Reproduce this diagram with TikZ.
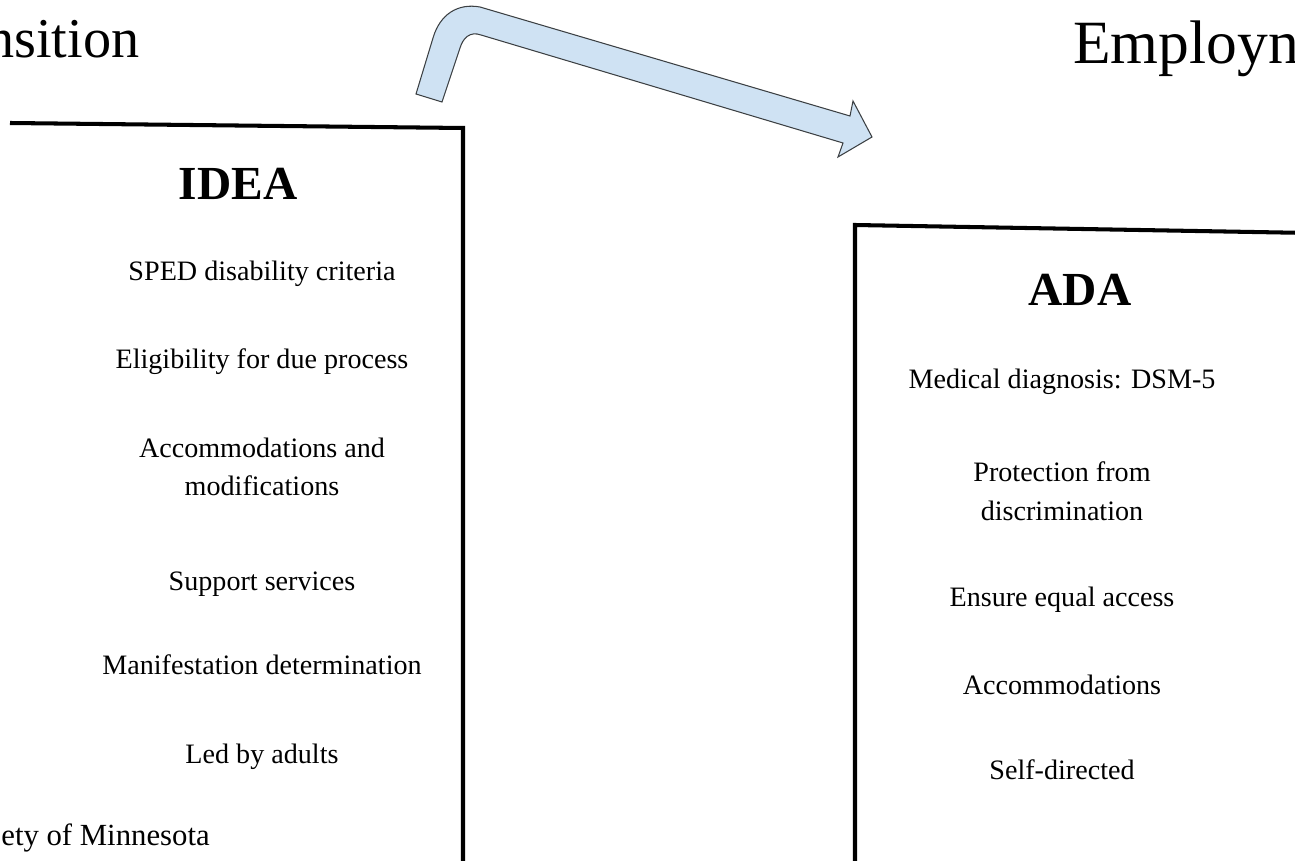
\documentclass[tikz,border=0pt]{standalone}
\usepackage{fontspec}
\setmainfont{Liberation Serif}
\usetikzlibrary{positioning}
\definecolor{shaftblue}{HTML}{CFE2F3}
\definecolor{shaftedge}{HTML}{3C4043}

\begin{document}
\begin{tikzpicture}[x=0.02cm, y=-0.02cm,
  frame/.style={line width=2.3pt, line join=miter},
  head/.style={font=\fontsize{27}{32}\selectfont\bfseries, inner sep=0pt},
  entry/.style={font=\fontsize{16}{22}\selectfont, align=center, inner sep=0pt},
  title/.style={font=\fontsize{35}{40}\selectfont, inner sep=0pt, anchor=base west}]
\useasboundingbox (0,0) rectangle (1295,861);
\clip (0,0) rectangle (1295,861);

% page titles, cut off by the slide edge
\node[title, font=\fontsize{32}{36}\selectfont] (trans) at (-14,58) {nsition};
\node[title] (emp) at (1073,64) {Employn};
\node[font=\fontsize{17.5}{20}\selectfont, inner sep=0pt, anchor=base west] (uni) at (1,845) {ety of Minnesota};

% the two open frames
\draw[frame] (10,123) -- (463,128) -- (463,875);
\draw[frame] (1310,233) -- (855,225) -- (855,875);

% bent block arrow between them
\draw[fill=shaftblue, draw=shaftedge, line width=0.6pt, line join=miter]
  (416,94) -- (433,38) .. controls (440,14) and (458,3) .. (480,7)
  -- (850,116) -- (853,101) -- (872,137) -- (838,157) -- (843,143)
  -- (481,35) .. controls (470,31) and (463,38) .. (460,48)
  -- (442,102) -- cycle;

% left frame
\node[head] (idea) at (238,184) {IDEA};
\foreach \txt/\yy [count=\i] in {
    SPED disability criteria/274,
    Eligibility for due process/362,
    {Accommodations and\\modifications}/467,
    Support services/584,
    Manifestation determination/665,
    Led by adults/757}
  \node[entry] (idea-\i) at (262,\yy) {\txt};

% right frame
\node[head] (ada) at (1080,290) {ADA};
\foreach \txt/\yy [count=\i] in {
    Medical diagnosis: DSM-5/382,
    {Protection from\\discrimination}/491,
    Ensure equal access/600,
    Accommodations/685,
    Self-directed/770}
  \node[entry] (ada-\i) at (1062,\yy) {\txt};
\end{tikzpicture}
\end{document}
